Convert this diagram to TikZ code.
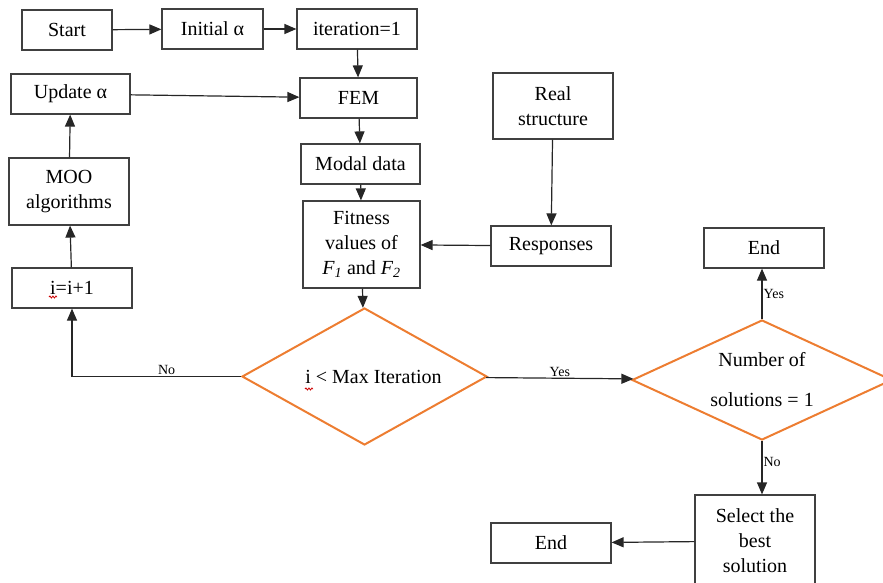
\documentclass[tikz,border=0pt]{standalone}
\usepackage{fontspec}
\setmainfont{Liberation Serif}
\usetikzlibrary{shapes.geometric,arrows.meta,decorations.pathmorphing}

\definecolor{boxline}{RGB}{64,64,64}
\definecolor{deco}{RGB}{237,125,49}

\tikzstyle{block} = [draw=boxline, line width=1.2pt, minimum width=120pt, minimum height=40pt, inner sep=2pt, align=center, font=\fontsize{20}{25}\selectfont]
\tikzstyle{decision} = [diamond, draw=deco, line width=2pt, inner sep=0pt, align=center, font=\fontsize{20}{25}\selectfont]
\tikzstyle{line} = [draw=black!85, line width=1.2pt, -{Triangle[length=12pt,width=10pt]}]
\tikzstyle{answer} = [font=\fontsize{14}{16}\selectfont, inner sep=1pt]
\tikzstyle{squiggle} = [red!80!black, line width=0.8pt, decorate, decoration={snake, amplitude=1pt, segment length=3pt}]

\begin{document}
\begin{tikzpicture}[x=1pt, y=-1pt]
\useasboundingbox (0,0) rectangle (883,583);

% top row
\node[block, minimum width=90pt]  (start) at (67,30)    {Start};
\node[block, minimum width=101pt] (init)  at (212.5,29) {Initial α};
\node[block]                      (iter)  at (357,29)   {iteration=1};

% left column
\node[block, minimum width=119pt] (upd) at (70.5,94)  {Update α};
\node[block, minimum height=67pt] (moo) at (69,191.5) {MOO\\algorithms};
\node[block]                      (inc) at (72,288)   {i=i+1};

% middle column
\node[block, minimum width=117pt] (fem)   at (358.5,98)  {FEM};
\node[block, minimum width=119pt] (modal) at (360.5,164) {Modal data};
\node[block, minimum width=117pt, minimum height=87pt] (fit) at (361.5,244.5)
    {Fitness\\values of\\\textit{F\textsubscript{1}} and \textit{F\textsubscript{2}}};
\node[decision, aspect=2, minimum width=245pt, minimum height=137pt] (d1) at (364.5,376.5)
    {\hspace{18pt}i < Max Iteration};

% right part
\node[block, minimum height=66pt] (real) at (553,106) {Real\\structure};
\node[block]                      (resp) at (551,246) {Responses};
\node[block]                      (end1) at (764,248) {End};
\node[decision, aspect=2.2, minimum width=260pt, minimum height=120pt] (d2) at (762,380)
    {Number of\\[15pt]solutions = 1};
\node[block, minimum height=92pt] (sel)  at (755,541) {Select the\\best\\solution};
\node[block]                      (end2) at (551,543) {End};

% spell check marks
\draw[squiggle] (305,389) -- (313,389);
\draw[squiggle] (49,297) -- (57,297);

% connectors
\draw[line] (start) -- (init);
\draw[line] (init) -- (iter);
\draw[line] (iter) -- (fem);
\draw[line] (upd) -- (fem);
\draw[line] (fem) -- (modal);
\draw[line] (modal) -- (fit);
\draw[line] (real) -- (resp);
\draw[line] (resp) -- (fit);
\draw[line] (fit) -- (d1);
\draw[line] (d1.west) -| node[answer, above, pos=0.22] {No} (inc.south);
\draw[line] (inc) -- (moo);
\draw[line] (moo) -- (upd);
\draw[line] (d1) -- node[answer, above] {Yes} (d2);
\draw[line] (d2.north) -- node[answer, right] {Yes} (end1.south -| d2.north);
\draw[line] (d2.south) -- node[answer, right, pos=0.4] {No} (sel.north -| d2.south);
\draw[line] (sel) -- (end2);
\end{tikzpicture}
\end{document}
